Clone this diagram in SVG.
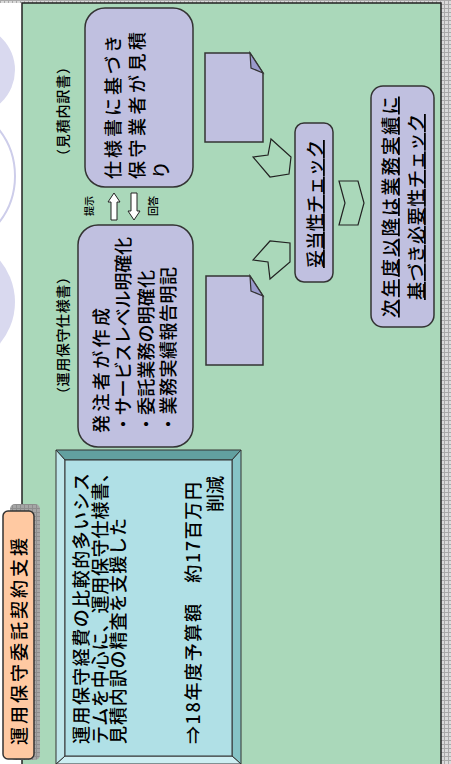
<svg xmlns="http://www.w3.org/2000/svg" width="451" height="764" viewBox="0 0 451 764">
<style>
.t{font-family:"Noto Sans CJK JP","Noto Sans CJK SC",sans-serif;fill:#000;font-weight:500}
.lav{fill:#c0c0e0;stroke:#333;stroke-width:1.5}
.chev{fill:none;stroke:#222;stroke-width:1.2;stroke-linejoin:miter}
.doc{fill:#c0c0e0;stroke:#333;stroke-width:1.5;stroke-linejoin:miter}
.fold{fill:#9a9acc;stroke:#333;stroke-width:1.2}
.arr{fill:#fff;stroke:#222;stroke-width:1}
.u{text-decoration:underline}
</style>
<defs>
<pattern id="grid" width="4" height="4" patternUnits="userSpaceOnUse"><rect width="4" height="4" fill="#dadada"/><path d="M0 0.5H4M0.5 0V4" stroke="#a9a9a9" stroke-width="1"/></pattern>
<pattern id="grid2" width="4" height="4" patternUnits="userSpaceOnUse"><rect width="4" height="4" fill="#a6a6a6"/><path d="M0 0.5H4M0.5 0V4" stroke="#8e8e8e" stroke-width="1"/></pattern>
</defs>
<rect width="451" height="764" fill="#fff"/>
<g id="background">
<circle cx="-30" cy="70" r="45" fill="#d9d9ef"/>
<circle cx="-60" cy="176" r="75" fill="none" stroke="#cdcdea" stroke-width="2"/>
<circle cx="-50" cy="302" r="65" fill="#d9d9ef"/>
<rect x="0" y="0" width="451" height="3" fill="url(#grid)"/>
<rect x="441" y="0" width="10" height="764" fill="url(#grid)"/>
<rect x="22" y="3" width="419" height="765" fill="#aad8ba" stroke="#222" stroke-width="1.5"/>
</g>
<g id="title">
<rect x="10" y="504" width="30" height="256" rx="5" fill="url(#grid2)"/>
<rect x="3" y="511" width="31" height="248" rx="5" fill="#ffc9a2" stroke="#333" stroke-width="1.5"/>
<text class="t" font-size="18" transform="translate(26,745) rotate(-90)" textLength="207" lengthAdjust="spacing">運用保守委託契約支援</text>
</g>
<g id="summary">
<polygon points="56,450 241,450 232,460 65,460" fill="#62a0a0" stroke="#333" stroke-width="1"/>
<polygon points="241,450 241,764 232,756 232,460" fill="#86c4c6" stroke="#333" stroke-width="1"/>
<polygon points="56,764 241,764 232,756 65,756" fill="#cdeef2" stroke="#333" stroke-width="1"/>
<polygon points="56,450 65,460 65,756 56,764" fill="#bfe6ea" stroke="#333" stroke-width="1"/>
<rect x="65" y="460" width="167" height="296" fill="#b0e0e6" stroke="#333" stroke-width="1"/>
<text class="t" font-size="18" transform="translate(88,744) rotate(-90)" textLength="271" lengthAdjust="spacing">運用保守経費の比較的多いシス</text>
<text class="t" font-size="18" transform="translate(107,744) rotate(-90)" textLength="280" lengthAdjust="spacing">テムを中心に、運用保守仕様書、</text>
<text class="t" font-size="18" transform="translate(125,744) rotate(-90)" textLength="226" lengthAdjust="spacing">見積内訳の精査を支援した</text>
<text class="t" font-size="18" transform="translate(200,744) rotate(-90)" textLength="262" lengthAdjust="spacing">⇒18年度予算額　約17百万円</text>
<text class="t" font-size="18" text-anchor="end" transform="translate(222,476) rotate(-90)">削減</text>
</g>
<g id="spec-label">
<text class="t" font-size="14" transform="translate(68,401) rotate(-90)" textLength="131" lengthAdjust="spacing">（運用保守仕様書）</text>
</g>
<g id="estimate-label">
<text class="t" font-size="14" transform="translate(68,163) rotate(-90)" textLength="103" lengthAdjust="spacing">（見積内訳書）</text>
</g>
<g id="spec-box">
<rect class="lav" x="78" y="225" width="115" height="222" rx="20"/>
<text class="t" font-size="18" transform="translate(108,433) rotate(-90)" textLength="125" lengthAdjust="spacing">発注者が作成</text>
<text class="t" font-size="18" transform="translate(130,433) rotate(-90)" textLength="196" lengthAdjust="spacing">・サービスレベル明確化</text>
<text class="t" font-size="18" transform="translate(153,433) rotate(-90)" textLength="163" lengthAdjust="spacing">・委託業務の明確化</text>
<text class="t" font-size="18" transform="translate(175,433) rotate(-90)" textLength="166" lengthAdjust="spacing">・業務実績報告明記</text>
</g>
<g id="estimate-box">
<rect class="lav" x="85" y="8" width="108" height="179" rx="20"/>
<text class="t" font-size="18" transform="translate(120,179) rotate(-90)" textLength="144" lengthAdjust="spacing">仕様書に基づき</text>
<text class="t" font-size="18" transform="translate(144,179) rotate(-90)" textLength="147" lengthAdjust="spacing">保守業者が見積</text>
<text class="t" font-size="18" transform="translate(168,179) rotate(-90)">り</text>
</g>
<g id="present">
<polygon class="arr" points="114,193 120,202 117,202 117,220 111,220 111,202 108,202"/>
<text class="t" font-size="10" transform="translate(93,216) rotate(-90)">提示</text>
</g>
<g id="answer">
<polygon class="arr" points="131,193 137,193 137,211 140,211 134,220 128,211 131,211"/>
<text class="t" font-size="10" transform="translate(157,216) rotate(-90)">回答</text>
</g>
<g id="doc-estimate">
<path class="doc" d="M205,53 H250 L263,73 V142 H205 Z"/>
<path class="fold" d="M250,53 L251,68 L263,73 Z"/>
</g>
<g id="doc-spec">
<path class="doc" d="M206,276 H250 L263,296 V365 H206 Z"/>
<path class="fold" d="M250,276 L251,291 L263,296 Z"/>
</g>
<g id="check">
<rect class="lav" x="295" y="123" width="38" height="159" rx="9"/>
<text class="t u" font-size="18" text-anchor="middle" transform="translate(322,204) rotate(-90)" textLength="128" lengthAdjust="spacing">妥当性チェック</text>
</g>
<g id="future-check">
<rect class="lav" x="371" y="86" width="63" height="241" rx="12"/>
<text class="t u" font-size="18" text-anchor="middle" transform="translate(397,207) rotate(-90)" textLength="221" lengthAdjust="spacing">次年度以降は業務実績に</text>
<text class="t u" font-size="18" text-anchor="middle" transform="translate(423,207) rotate(-90)" textLength="186" lengthAdjust="spacing">基づき必要性チェック</text>
</g>
<g id="connectors">
<polygon class="chev" points="253,157 268,155 271,139 291,157 289,174 270,177"/>
<polygon class="chev" points="253,260 268,262 270,279 290,262 290,243 270,241"/>
<polygon class="chev" points="339,181 358,181 364,203 358,225 339,225 345,203"/>
</g>
</svg>
